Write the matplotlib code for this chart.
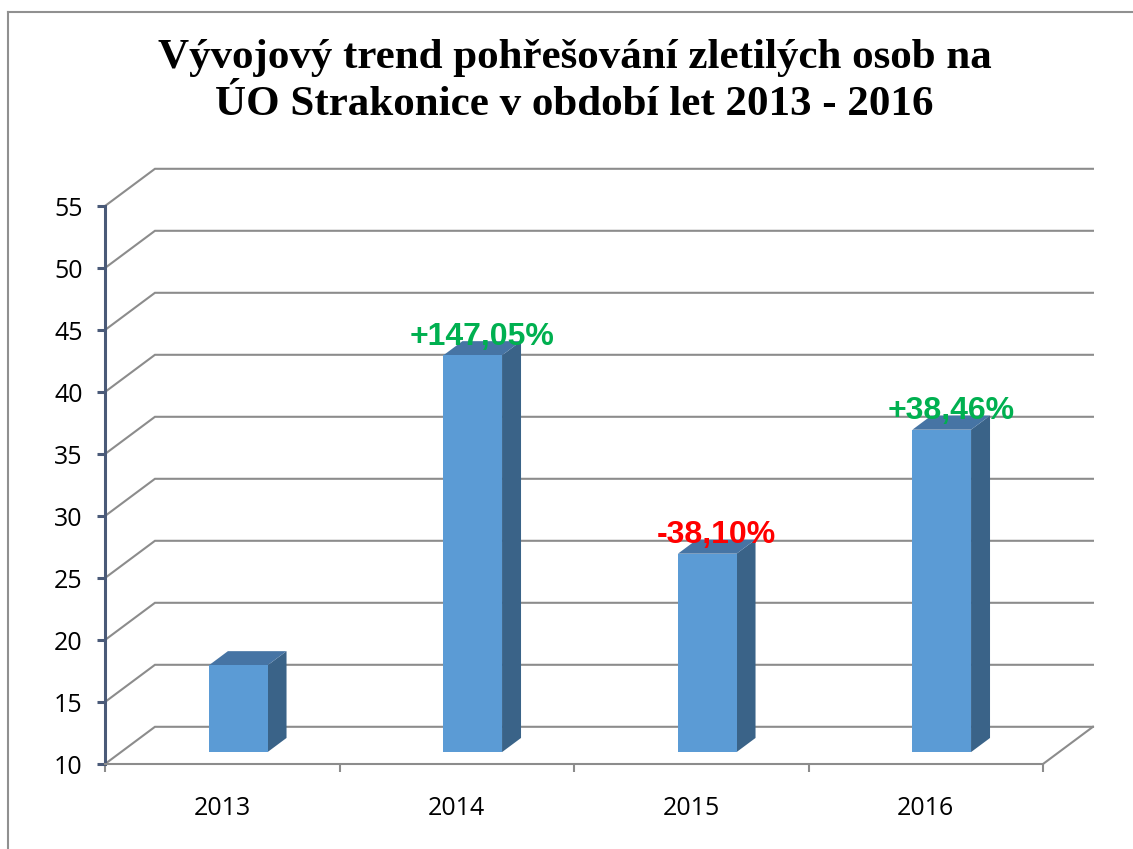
import matplotlib
matplotlib.use("Agg")
import matplotlib.pyplot as plt
from matplotlib.lines import Line2D

# data
years = ["2013", "2014", "2015", "2016"]
counts = [17, 42, 26, 36]
changes = ["", "+147,05%", "-38,10%", "+38,46%"]
change_colors = ["#00B050", "#00B050", "#FF0000", "#00B050"]
yticks = [10, 15, 20, 25, 30, 35, 40, 45, 50, 55]
title = "Vývojový trend pohřešování zletilých osob na\nÚO Strakonice v období let 2013 - 2016"

# fake 3d depth offset (in data units)
DX, DY = 0.213, 3.0
def proj(x, y, d):
    return x + d * DX, y + d * DY

grid_c = "#8c8c8c"
axis_c = "#4a5a78"

fig = plt.figure(figsize=(11.33, 8.49), dpi=100)
ax = fig.add_axes([105/1133, 85/849, 4.25*234.5/1133, 48.5*12.4/849])
ax.set_xlim(0, 4.25)
ax.set_ylim(10, 58.5)
ax.patch.set_alpha(0)
for s in ["top", "right"]:
    ax.spines[s].set_visible(False)

ax.spines["left"].set_bounds(10, 55)
ax.spines["left"].set_color(axis_c)
ax.spines["left"].set_linewidth(2.2)
ax.spines["bottom"].set_bounds(0, 4)
ax.spines["bottom"].set_color(grid_c)
ax.spines["bottom"].set_linewidth(1.5)

ax.set_yticks(yticks)
ax.set_yticklabels([str(v) for v in yticks])
ax.tick_params(axis="y", colors=axis_c, width=2.2, length=6, pad=10,
               labelcolor="black", labelsize=18)
ax.set_xticks([0, 1, 2, 3, 4])
ax.set_xticklabels([])
ax.set_xticks([i + 0.5 for i in range(len(years))], minor=True)
ax.set_xticklabels(years, minor=True)
ax.tick_params(axis="x", which="major", colors=grid_c, width=1.5, length=6)
ax.tick_params(axis="x", which="minor", length=0, pad=23, labelsize=18)
for lab in ax.get_xticklabels(minor=True) + ax.get_yticklabels():
    lab.set_family("Open Sans")

# back wall grid + side diagonals
for v in yticks:
    x0, y0 = proj(0, v, 0)
    x1, y1 = proj(0, v, 1)
    x2, y2 = proj(4, v, 1)
    ax.plot([x0, x1, x2], [y0, y1, y2], color=grid_c, lw=1.5, zorder=1,
            clip_on=False, solid_joinstyle="miter")
xa, ya = proj(4, 10, 0)
xb, yb = proj(4, 10, 1)
ax.plot([xa, xb], [ya, yb], color=grid_c, lw=1.5, zorder=1, clip_on=False)

# bars
w = 0.25
df, db = 0.32, 0.70
for i, v in enumerate(counts):
    c = i + 0.5
    xl, xr = c - w / 2, c + w / 2
    front = [proj(xl, 10, df), proj(xr, 10, df), proj(xr, v, df), proj(xl, v, df)]
    side = [proj(xr, 10, df), proj(xr, 10, db), proj(xr, v, db), proj(xr, v, df)]
    top = [proj(xl, v, df), proj(xr, v, df), proj(xr, v, db), proj(xl, v, db)]
    for pts, col in [(side, "#3a6388"), (top, "#4674a4"), (front, "#5b9bd5")]:
        ax.fill([p[0] for p in pts], [p[1] for p in pts], color=col,
                zorder=3, clip_on=False, lw=0)
    if changes[i]:
        tx, ty = proj(c, v, 0.5)
        ax.text(tx, ty + 0.3, changes[i], color=change_colors[i], ha="center",
                va="baseline", fontsize=23, fontweight="bold",
                family="Liberation Sans", zorder=5)

fig.text(0.507, 1 - 39/849, title, ha="center", va="top", fontsize=31,
         fontweight="bold", family="Liberation Serif", linespacing=1.3)

# outer frame
fig.add_artist(Line2D([7.5/1133, 7.5/1133], [0, 1 - 12/849], color="#909090", lw=1.5))
fig.add_artist(Line2D([7.5/1133, 1], [1 - 12/849, 1 - 12/849], color="#909090", lw=1.5))

fig.savefig("out.png", dpi=100)
